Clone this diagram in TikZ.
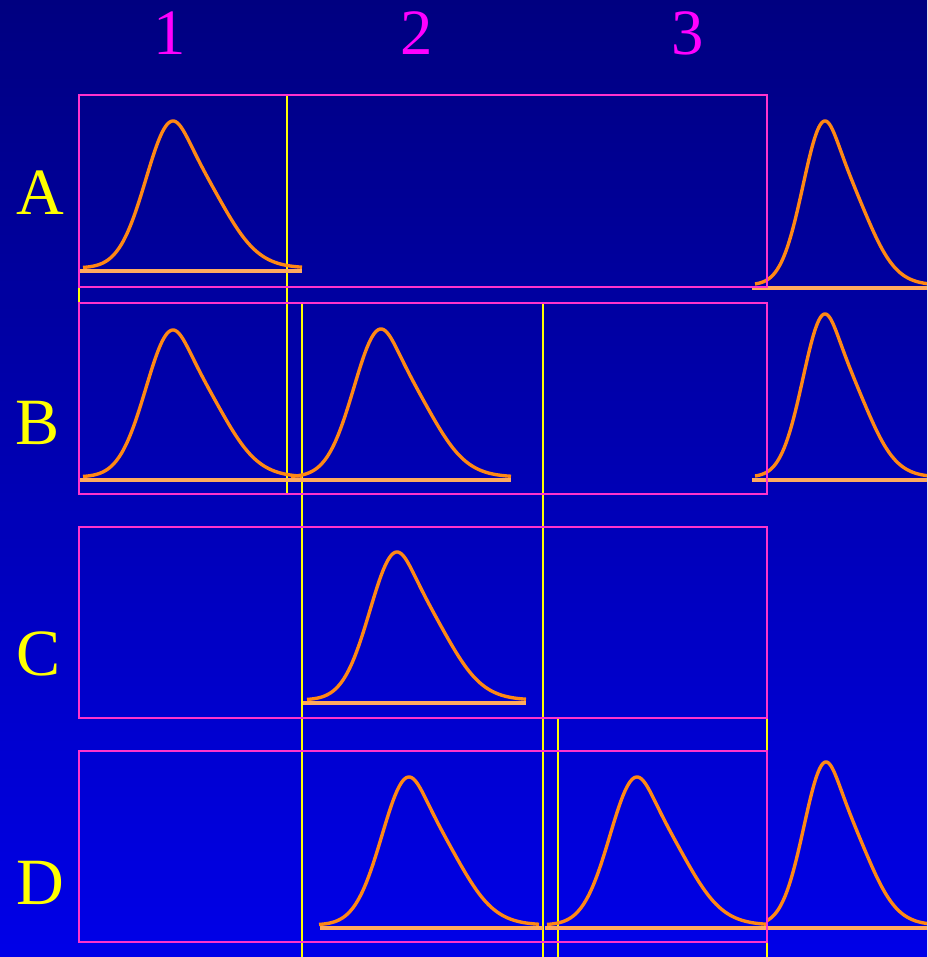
\documentclass[tikz,border=0pt]{standalone}
\usepackage{fontspec}
\setmainfont{Liberation Serif}
\definecolor{skytop}{RGB}{0, 0, 128}
\definecolor{skybot}{RGB}{0, 0, 232}
\definecolor{bandpink}{RGB}{255, 51, 204}
\definecolor{guideyel}{RGB}{255, 255, 0}
\definecolor{pulseorg}{RGB}{255, 136, 20}
\definecolor{baseorg}{RGB}{255, 170, 95}
\definecolor{colmag}{RGB}{255, 0, 255}
\usetikzlibrary{positioning}

\begin{document}
\begin{tikzpicture}[
  x=0.025cm, y=-0.025cm,
  band/.style={draw=bandpink, line width=1.4pt},
  guide/.style={draw=guideyel, line width=1.4pt},
  pulse/.style={draw=pulseorg, line width=2.4pt, line join=round},
  baseline/.style={draw=baseorg, line width=2.4pt},
  collabel/.style={text=colmag, font=\fontsize{46}{50}\selectfont, inner sep=0pt},
  rowlabel/.style={text=guideyel, font=\fontsize{47}{50}\selectfont, inner sep=0pt}
]
  \shade[top color=skytop, bottom color=skybot] (0,0) rectangle (927,957);
  \useasboundingbox (0,0) rectangle (927,957);

  % column and row labels
  \node[collabel] (col1) at (170,33) {1};
  \node[collabel] (col2) at (417,33) {2};
  \node[collabel] (col3) at (688,33) {3};
  \node[rowlabel] (rowA) at (40,193) {A};
  \node[rowlabel] (rowB) at (38,423) {B};
  \node[rowlabel] (rowC) at (39,654) {C};
  \node[rowlabel] (rowD) at (40,883) {D};

  % yellow time marks
  \draw[guide] (79,95) -- (79,303);
  \draw[guide] (287,95) -- (287,494);
  \draw[guide] (302,303) -- (302,957);
  \draw[guide] (543,303) -- (543,957);
  \draw[guide] (558,718) -- (558,957);
  \draw[guide] (767,718) -- (767,957);

  % pulses: peak x / base y / height / spread left, right tail, knee / domain / baseline ends
  \foreach \p/\b/\h/\sl/\sr/\sk/\lo/\hi/\bl/\br in {
      173/271/150/27/40/35/-90/129/80/302,
      173/480/150/27/40/35/-90/129/80/302,
      381/480/151/27/40/35/-90/130/290/511,
      397/703/151/27/40/35/-90/129/303/526,
      409/928/151/27/40/35/-90/130/320/543,
      637/928/151/27/40/35/-90/130/545/767,
      825/288/167/22/33/29/-70/102/752/927,
      825/480/166/22/33/29/-70/102/752/927,
      826/928/166/22/33/29/-59/101/767/927}{
    \draw[baseline] (\bl,\b) -- (\br,\b);
    \draw[pulse] plot[domain=\lo:\hi, samples=160, smooth]
      ({\p+\x}, {\b-3-(\h-3)*exp(-0.5*(\x/((\x<0) ? \sl : (\sl+(\sr-\sl)*(1-exp(-1*(\x/\sk)^2)))))^2)});
  }

  % magenta rows
  \draw[band] (79,95) rectangle (767,287);
  \draw[band] (79,303) rectangle (767,494);
  \draw[band] (79,527) rectangle (767,718);
  \draw[band] (79,751) rectangle (767,942);
\end{tikzpicture}
\end{document}
